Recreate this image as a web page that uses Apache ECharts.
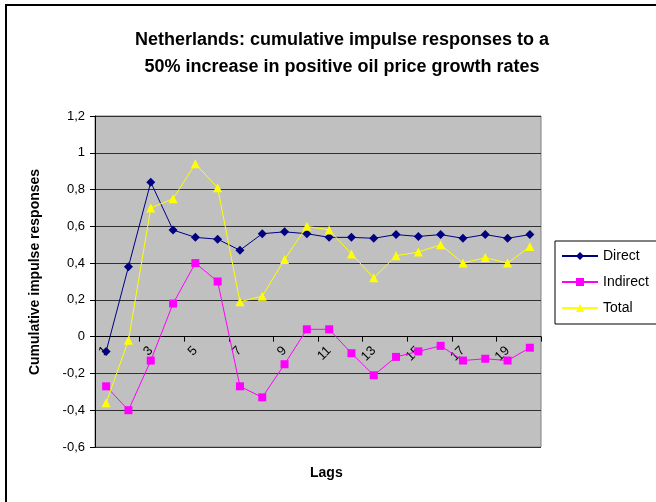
<!DOCTYPE html>
<html>
<head>
<meta charset="utf-8">
<script src="https://cdn.jsdelivr.net/npm/echarts@6/dist/echarts.min.js"></script>
<style>html,body{margin:0;padding:0;background:#fff;}#c{width:656px;height:502px;}</style>
</head>
<body>
<div id="c"></div>
<script>
const lags = ['1','2','3','4','5','6','7','8','9','10','11','12','13','14','15','16','17','18','19','20'];
const direct   = [-0.08, 0.38, 0.84, 0.58, 0.54, 0.53, 0.47, 0.56, 0.57, 0.56, 0.54, 0.54, 0.535, 0.555, 0.545, 0.555, 0.535, 0.555, 0.535, 0.555];
const indirect = [-0.27, -0.40, -0.13, 0.18, 0.40, 0.30, -0.27, -0.33, -0.15, 0.04, 0.04, -0.09, -0.21, -0.11, -0.08, -0.05, -0.13, -0.12, -0.13, -0.06];
const total    = [-0.36, -0.02, 0.70, 0.75, 0.94, 0.81, 0.19, 0.22, 0.42, 0.60, 0.58, 0.45, 0.32, 0.44, 0.46, 0.50, 0.40, 0.43, 0.40, 0.49];
const yTicks = { min: -0.6, max: 1.2, step: 0.2 };

const gridTop = 116, gridBottom = 55, H = 502;
const plotH = H - gridTop - gridBottom;
const zeroOffset = -plotH * (0 - yTicks.min) / (yTicks.max - yTicks.min);

const chart = echarts.init(document.getElementById('c'), null, { renderer: 'canvas' });
const font = 'Liberation Sans, Arial, sans-serif';
chart.setOption({
  animation: false,
  backgroundColor: '#fff',
  textStyle: { fontFamily: font },
  title: {
    text: 'Netherlands: cumulative impulse responses to a\n50% increase in positive oil price growth rates',
    left: 337, top: 22, textAlign: 'center',
    textStyle: { fontSize: 18, fontWeight: 'bold', color: '#000', lineHeight: 27, fontFamily: font }
  },
  graphic: [
    { type: 'rect', shape: { x: 6, y: 5, width: 720, height: 620 },
      style: { fill: 'none', stroke: '#000', lineWidth: 2 }, z: 100 },
    { type: 'text', left: 310, top: 466,
      style: { text: 'Lags', font: 'bold 14px ' + font, fill: '#000' } },
    { type: 'text', x: 35, y: 272, rotation: Math.PI / 2,
      style: { text: 'Cumulative impulse responses', font: 'bold 14px ' + font, fill: '#000',
        align: 'center', verticalAlign: 'middle' } }
  ],
  legend: {
    left: 555, top: 241, orient: 'vertical',
    itemWidth: 36, itemHeight: 10, itemGap: 12,
    padding: [8, 20, 9, 6],
    borderColor: '#000', borderWidth: 1, backgroundColor: '#fff',
    textStyle: { fontSize: 14, color: '#000', fontFamily: font },
    data: ['Direct', 'Indirect', 'Total']
  },
  grid: {
    left: 95, top: gridTop, right: 115, bottom: gridBottom, containLabel: false, outerBoundsMode: 'none',
    show: true, backgroundColor: '#C0C0C0', borderColor: '#808080', borderWidth: 1
  },
  xAxis: {
    type: 'category', data: lags, boundaryGap: true, position: 'bottom', offset: zeroOffset,
    axisLine: { onZero: false, lineStyle: { color: '#000', width: 1 } },
    axisTick: { show: true, length: 5, lineStyle: { color: '#000' } },
    axisLabel: { interval: 1, rotate: 45, fontSize: 13, color: '#000', margin: 12 },
    splitLine: { show: false }
  },
  yAxis: {
    type: 'value', min: yTicks.min, max: yTicks.max, interval: yTicks.step,
    axisLine: { show: true, lineStyle: { color: '#000', width: 1 } },
    axisTick: { show: true, length: 5, lineStyle: { color: '#000' } },
    axisLabel: { fontSize: 13, color: '#000', margin: 10,
      formatter: v => String(Math.round(v * 10) / 10).replace('.', ',') },
    splitLine: { show: true, lineStyle: { color: '#303030', width: 1 } }
  },
  series: [
    { name: 'Direct', type: 'line', data: direct, symbol: 'diamond', symbolSize: 9,
      itemStyle: { color: '#000080' }, lineStyle: { color: '#000080', width: 1 } },
    { name: 'Indirect', type: 'line', data: indirect, symbol: 'rect', symbolSize: 8,
      itemStyle: { color: '#FF00FF' }, lineStyle: { color: '#FF00FF', width: 1 } },
    { name: 'Total', type: 'line', data: total, symbol: 'triangle', symbolSize: 9,
      itemStyle: { color: '#FFFF00' }, lineStyle: { color: '#FFFF00', width: 1 } }
  ]
});
</script>
</body>
</html>
